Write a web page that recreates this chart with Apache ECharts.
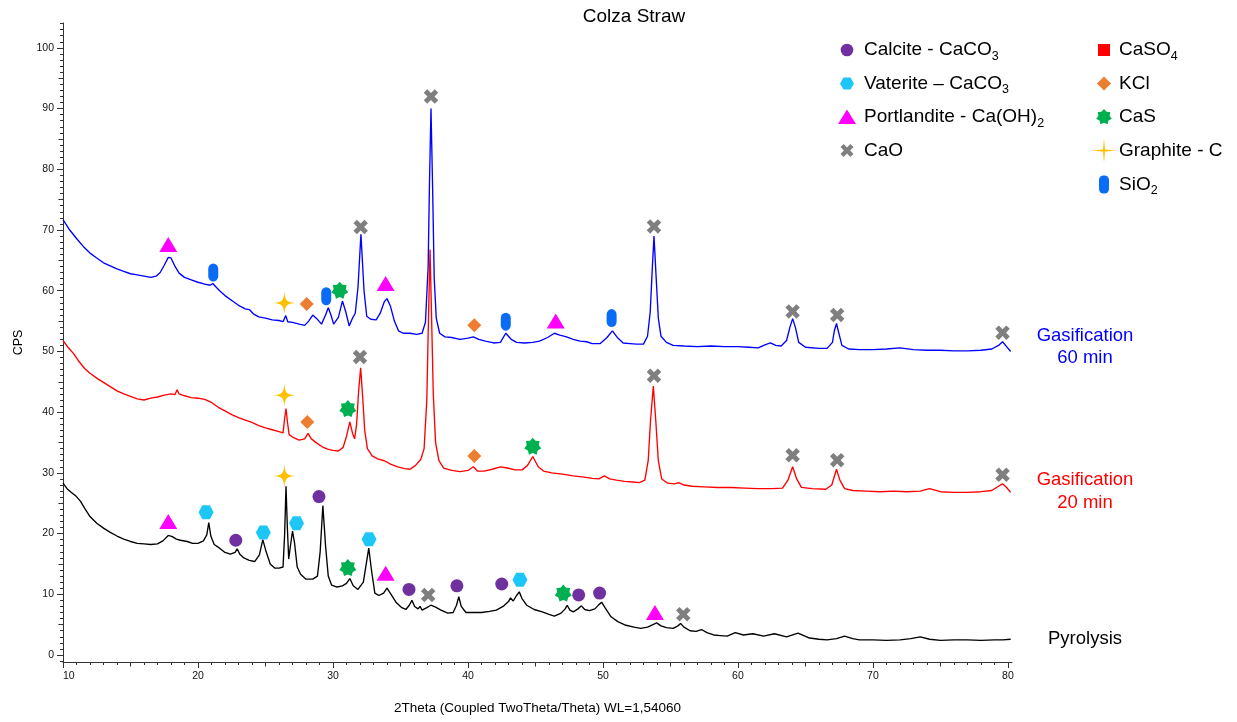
<!DOCTYPE html>
<html>
<head>
<meta charset="utf-8">
<script src="https://cdn.jsdelivr.net/npm/echarts@6/dist/echarts.min.js"></script>
<style>
html,body{margin:0;padding:0;background:#fff;}
#c{width:1237px;height:722px;}
</style>
</head>
<body>
<div id="c"></div>
<script>
// ---------------- DATA ----------------
const xMajor = [10, 20, 30, 40, 50, 60, 70, 80];
const yMajor = [0, 10, 20, 30, 40, 50, 60, 70, 80, 90, 100];

// Gasification 60 min (blue)
const gas60X = [10.0,10.5,11.0,11.5,12.0,12.5,13.0,13.5,14.0,14.5,15.0,15.5,16.0,16.5,16.9,17.2,17.5,17.8,18.0,18.3,18.6,19.0,19.5,20.0,20.5,20.9,21.1,21.3,21.6,22.0,22.5,23.0,23.5,23.8,24.1,24.5,25.0,25.5,26.0,26.3,26.5,26.65,27.0,27.5,27.9,28.2,28.5,28.8,29.15,29.45,29.65,29.85,30.05,30.4,30.7,30.95,31.2,31.45,31.65,31.85,32.07,32.3,32.5,32.8,33.2,33.5,33.8,34.0,34.25,34.55,34.85,35.2,35.7,36.2,36.6,36.85,37.05,37.15,37.26,37.38,37.5,37.65,37.9,38.3,38.8,39.4,40.0,40.4,40.8,41.3,41.9,42.4,42.8,43.2,43.6,44.2,44.8,45.3,45.9,46.4,46.8,47.3,47.8,48.3,48.8,49.2,49.8,50.3,50.7,51.1,51.5,52.0,52.5,53.0,53.3,53.5,53.65,53.78,53.92,54.1,54.3,54.7,55.2,56.0,57.0,58.0,59.0,60.0,60.8,61.5,62.0,62.4,62.8,63.2,63.6,63.85,64.05,64.25,64.5,65.0,66.0,66.6,67.0,67.15,67.3,67.45,67.7,68.2,69.0,70.0,71.0,72.0,73.0,74.0,75.0,76.0,77.0,78.0,78.8,79.3,79.6,79.9,80.2];
const gas60Y = [71.7,70.0,68.6,67.3,66.2,65.4,64.6,64.1,63.6,63.2,62.8,62.6,62.4,62.2,62.4,63.0,64.2,65.5,65.4,64.0,62.9,62.2,61.8,61.4,61.1,60.9,61.2,60.7,60.0,59.2,58.4,57.6,57.0,56.9,56.2,55.7,55.5,55.2,55.1,54.9,55.9,54.9,54.8,54.5,54.3,55.0,56.0,55.4,54.5,56.0,57.2,56.0,54.5,55.6,58.3,56.5,54.2,55.5,56.3,60.5,69.3,60.0,55.8,55.3,55.2,56.3,58.2,58.7,57.5,55.0,53.4,53.0,53.0,52.8,53.0,54.8,64.0,78.0,90.0,77.0,62.0,55.5,53.0,52.4,52.3,52.0,52.2,52.4,52.0,51.7,51.4,51.5,53.0,52.0,51.5,51.4,51.5,51.7,52.3,53.0,52.7,52.4,52.0,51.7,51.6,51.3,51.3,52.3,53.4,52.2,51.4,51.3,51.2,51.2,52.5,56.5,63.5,69.0,63.0,55.5,52.5,51.5,51.0,50.9,50.8,50.9,50.8,50.8,50.7,50.6,51.1,51.4,51.0,50.9,51.8,54.0,55.4,54.0,51.5,50.7,50.5,50.5,51.5,53.5,54.6,53.2,51.0,50.4,50.3,50.3,50.4,50.6,50.3,50.2,50.2,50.1,50.1,50.2,50.4,51.0,51.6,50.8,50.0];

// Gasification 20 min (red)
const gas20X = [10.0,10.4,10.8,11.2,11.6,12.0,12.5,13.0,13.5,14.0,14.5,15.0,15.5,16.0,16.5,17.0,17.5,18.0,18.3,18.45,18.6,19.0,19.5,20.0,20.5,21.0,21.5,22.0,22.5,23.0,23.5,24.0,24.5,25.0,25.5,26.0,26.3,26.42,26.52,26.62,26.75,27.0,27.5,27.9,28.15,28.4,28.8,29.2,29.6,30.0,30.4,30.75,31.0,31.25,31.45,31.6,31.75,31.9,32.05,32.2,32.35,32.55,32.9,33.3,33.8,34.3,34.8,35.3,35.7,36.1,36.5,36.75,36.95,37.07,37.19,37.3,37.43,37.6,37.85,38.2,38.8,39.4,40.0,40.4,40.7,41.2,41.8,42.4,42.9,43.5,44.0,44.4,44.8,45.2,45.6,46.2,47.0,47.8,48.6,49.2,49.7,50.1,50.5,51.0,51.6,52.2,52.7,53.1,53.35,53.52,53.73,53.9,54.1,54.35,54.8,55.3,55.6,56.0,56.6,57.5,58.5,59.5,60.5,61.5,62.5,63.3,63.7,64.05,64.35,64.7,65.5,66.5,66.95,67.3,67.55,67.9,68.5,69.5,70.5,71.5,72.5,73.5,74.2,75.0,76.0,77.0,78.0,78.8,79.3,79.6,79.9,80.2];
const gas20Y = [51.8,50.6,49.6,48.3,47.2,46.4,45.6,44.9,44.2,43.5,43.0,42.6,42.2,42.0,42.3,42.5,42.8,43.0,42.9,43.7,43.0,42.7,42.4,42.3,42.1,41.6,40.8,40.2,39.6,39.1,38.7,38.3,37.8,37.4,37.1,36.8,36.6,39.0,40.6,38.5,36.3,35.9,35.4,35.6,36.5,35.6,34.9,34.3,33.9,33.7,33.6,34.2,36.0,38.4,36.5,35.6,38.0,43.5,47.3,42.5,37.0,34.0,32.8,32.3,32.0,31.4,31.0,30.7,30.6,31.2,32.2,34.0,42.0,55.0,66.8,56.0,43.0,35.0,32.0,30.8,30.4,30.2,30.4,31.0,30.3,30.3,30.6,31.0,30.8,30.5,30.5,31.2,32.7,31.0,30.3,30.0,29.8,29.5,29.3,29.1,29.0,29.5,29.0,28.8,28.6,28.5,28.4,28.8,32.0,38.5,44.3,39.0,32.0,29.0,28.3,28.2,28.4,28.0,27.8,27.7,27.6,27.6,27.5,27.4,27.4,27.5,28.8,31.0,29.0,27.6,27.4,27.3,28.0,30.6,28.8,27.4,27.1,27.0,26.9,27.0,26.9,27.0,27.4,26.9,26.8,26.8,26.9,27.1,27.8,28.2,27.6,26.8];

// Pyrolysis (black)
const pyroX = [10.0,10.3,10.6,11.0,11.3,11.6,12.0,12.5,13.0,13.5,14.0,14.5,15.0,15.5,16.0,16.5,17.0,17.4,17.8,18.1,18.4,18.7,19.2,19.6,20.0,20.4,20.65,20.8,20.95,21.2,21.6,22.0,22.4,22.75,22.9,23.1,23.4,23.8,24.2,24.55,24.8,25.05,25.35,25.7,26.0,26.3,26.42,26.52,26.62,26.72,26.85,27.0,27.15,27.35,27.6,28.0,28.5,28.85,29.05,29.25,29.45,29.65,29.9,30.3,30.7,31.0,31.25,31.5,31.85,32.25,32.5,32.65,32.85,33.1,33.4,33.75,34.0,34.3,34.7,35.1,35.4,35.65,35.85,36.05,36.3,36.45,36.6,36.95,37.25,37.6,38.0,38.5,38.9,39.15,39.32,39.5,39.85,40.4,41.0,41.6,42.1,42.6,43.0,43.15,43.35,43.6,43.8,44.0,44.35,44.9,45.5,46.0,46.4,46.9,47.2,47.35,47.55,47.8,48.15,48.4,48.65,49.0,49.4,49.7,49.9,50.15,50.6,51.1,51.7,52.3,52.8,53.3,53.7,53.98,54.3,54.7,55.2,55.55,55.75,56.0,56.45,56.9,57.3,57.7,58.2,58.7,59.2,59.8,60.4,61.1,61.9,62.7,63.6,64.45,65.3,66.0,66.6,67.3,67.9,68.5,69.0,70.0,71.0,72.0,72.8,73.5,74.2,75.0,76.0,77.0,78.0,79.0,79.6,80.2];
const pyroY = [28.3,27.4,26.8,26.1,25.3,24.2,22.8,21.7,20.9,20.2,19.6,19.1,18.7,18.4,18.3,18.2,18.3,18.8,19.7,19.5,19.1,18.9,18.7,18.4,18.4,18.8,19.8,21.8,19.6,18.2,17.6,16.9,16.6,16.9,17.5,16.6,16.0,15.6,15.4,16.5,19.0,17.0,15.0,14.3,14.3,14.5,20.0,27.8,21.0,15.8,18.0,20.4,18.5,14.5,13.3,12.5,12.5,13.0,17.0,24.6,18.0,13.0,11.5,11.2,11.4,11.8,12.6,11.4,10.8,12.0,15.5,17.6,14.0,10.2,9.8,10.2,11.0,10.0,8.6,7.8,7.5,8.2,9.0,8.0,7.6,8.0,7.4,7.8,8.2,7.9,7.4,6.9,7.0,8.2,9.6,8.0,7.0,7.0,7.0,7.2,7.4,8.0,8.8,9.4,8.9,9.8,10.4,9.3,8.2,7.5,7.1,6.7,6.4,6.9,7.6,8.2,7.4,7.1,7.6,8.1,7.5,7.3,7.6,8.3,8.7,7.8,6.3,5.5,4.9,4.6,4.4,4.6,5.0,5.3,4.8,4.5,4.4,4.8,5.2,4.6,4.0,3.9,4.2,3.7,3.3,3.2,3.1,3.7,3.3,3.5,3.1,3.5,3.0,3.6,2.8,2.6,2.5,2.7,3.1,2.7,2.5,2.5,2.4,2.5,2.7,3.0,2.6,2.4,2.5,2.5,2.4,2.5,2.5,2.6];

// Phase markers (2theta, CPS)
const calciteX = [22.8, 28.96, 35.63, 39.18, 42.5, 48.2, 49.75];
const calciteY = [18.9, 26.1, 10.8, 11.4, 11.7, 9.9, 10.2];
const vateriteX = [20.6, 24.84, 27.3, 32.67, 43.85];
const vateriteY = [23.5, 20.2, 21.7, 19.05, 12.4];
const portlX = [17.8, 33.9, 46.5, 17.8, 33.9, 53.85];
const portlY = [67.6, 61.2, 55.0, 22.0, 13.45, 7.0];
const caoX = [32.05, 37.26, 53.78, 64.05, 67.35, 79.6, 32.0, 53.78, 64.05, 67.35, 79.6, 37.05, 55.95];
const caoY = [70.5, 92.0, 70.6, 56.6, 56.0, 53.1, 49.1, 46.0, 32.9, 32.1, 29.7, 9.9, 6.7];
const kclX = [28.05, 40.47, 28.1, 40.47];
const kclY = [57.8, 54.3, 38.4, 32.8];
const casX = [30.5, 31.1, 44.8, 31.1, 47.06];
const casY = [60.1, 40.6, 34.4, 14.4, 10.2];
const graphiteX = [26.4, 26.4, 26.4];
const graphiteY = [58.0, 42.8, 29.5];
const sio2X = [21.13, 29.5, 42.8, 50.64];
const sio2Y = [63.0, 59.1, 54.9, 55.5];

const legendCol1 = ['Calcite - CaCO{s|3}', 'Vaterite \u2013 CaCO{s|3}', 'Portlandite - Ca(OH){s|2}', 'CaO'];
const legendCol2 = ['CaSO{s|4}', 'KCl', 'CaS', 'Graphite - C', 'SiO{s|2}'];
const curveLabels = ['Gasification\n60 min', 'Gasification\n20 min', 'Pyrolysis'];

// ---------------- STYLE / SHAPES ----------------
const FONT = '"Liberation Sans", Arial, sans-serif';
const C = {
  calcite: '#7030A0', vaterite: '#1CC6F6', portl: '#FF00FF', cao: '#7F7F7F',
  caso4: '#FF0000', kcl: '#ED7D31', cas: '#00B050', graphite: '#FFC000', sio2: '#0A6CF5'
};
// unit shapes as point lists in a 100x100 box
const hexPts = [[0,50],[25,5],[75,5],[100,50],[75,95],[25,95]];
const xPts = [[24,0],[50,26],[76,0],[100,24],[74,50],[100,76],[76,100],[50,74],[24,100],[0,76],[26,50],[0,24]];
function starPts(n, rin) {
  const p = [];
  for (let i = 0; i < 2 * n; i++) {
    const r = (i % 2 === 0) ? 50 : 50 * rin;
    const a = -Math.PI / 2 + i * Math.PI / n;
    p.push([50 + r * Math.cos(a), 50 + r * Math.sin(a)]);
  }
  return p;
}
const star7Pts = starPts(7, 0.72);
const star4D = 'M50,0 C53,40 60,47 100,50 C60,53 53,60 50,100 C47,60 40,53 0,50 C40,47 47,40 50,0 Z';
const capD = 'M0,30 A50,30 0 0 1 100,30 L100,70 A50,30 0 0 1 0,70 Z';
function toPath(pts) { return pts.map((p, i) => (i ? 'L' : 'M') + p[0].toFixed(2) + ',' + p[1].toFixed(2)).join(' ') + ' Z'; }
function fitPts(pts, w, h) { return pts.map(p => [(p[0] - 50) / 100 * w, (p[1] - 50) / 100 * h]); }
function star4Pts(R) {
  const p = [];
  for (let i = 0; i < 16; i++) {
    const a = -Math.PI / 2 + i * Math.PI / 8;
    const k = i % 4;
    const r = k === 0 ? R : (k === 2 ? R * 0.12 : R * 0.2);
    p.push([r * Math.cos(a), r * Math.sin(a)]);
  }
  return p;
}

function pairs(xs, ys) { return xs.map((x, i) => [x, ys[i]]); }
function range(a, b, keep) { const r = []; for (let v = a; v <= b; v++) if (keep(v)) r.push(v); return r; }
const xMid = range(10, 80, v => v % 5 === 0 && v % 10 !== 0);
const xMinor = range(10, 80, v => v % 5 !== 0);
const yMid = range(0, 104, v => v % 5 === 0 && v % 10 !== 0);
const yMinor = range(-1, 104, v => v % 5 !== 0);

const XMIN = 10, XMAX = 80.3, YMIN = -1.15, YMAX = 104.1;
const axisColor = '#333';

function xAx(ticks, len, main) {
  return {
    type: 'value', min: XMIN, max: XMAX, position: 'bottom',
    axisLine: { show: main, onZero: false, lineStyle: { color: axisColor, width: 1 } },
    axisTick: { show: true, customValues: ticks, length: len, lineStyle: { color: axisColor, width: 1 } },
    axisLabel: main ? { show: true, customValues: xMajor, fontSize: 10.5, color: '#111', margin: 9, fontFamily: FONT, alignMinLabel: 'left' } : { show: false },
    splitLine: { show: false },
    name: main ? '2Theta (Coupled TwoTheta/Theta) WL=1,54060' : '',
    nameLocation: 'middle', nameGap: 39,
    nameTextStyle: { fontSize: 13.5, color: '#000', fontFamily: FONT }
  };
}
function yAx(ticks, len, main) {
  return {
    type: 'value', min: YMIN, max: YMAX, position: 'left',
    axisLine: { show: main, onZero: false, lineStyle: { color: axisColor, width: 1 } },
    axisTick: { show: true, customValues: ticks, length: len, lineStyle: { color: axisColor, width: 1 } },
    axisLabel: main ? { show: true, customValues: yMajor, fontSize: 10.5, color: '#111', margin: 9, fontFamily: FONT } : { show: false },
    splitLine: { show: false },
    name: main ? 'CPS' : '',
    nameLocation: 'middle', nameGap: 38,
    nameTextStyle: { fontSize: 12.5, color: '#000', fontFamily: FONT }
  };
}

function lineSeries(name, xs, ys, color) {
  return {
    name, type: 'line', data: pairs(xs, ys), showSymbol: false, symbol: 'none',
    lineStyle: { color, width: 1.35 }, itemStyle: { color }, z: 3, silent: true, animation: false
  };
}
function markerSeries(name, xs, ys, symbol, size, color) {
  return {
    name, type: 'scatter', data: pairs(xs, ys), symbol, symbolSize: size,
    itemStyle: { color, opacity: 1 }, z: 10, silent: true, animation: false
  };
}

// legend graphics
function legendSymbol(kind) {
  switch (kind) {
    case 'circle': return { type: 'circle', shape: { cx: 0, cy: 0, r: 6.3 }, style: { fill: C.calcite } };
    case 'hex': return { type: 'polygon', shape: { points: fitPts(hexPts, 14, 13.5) }, style: { fill: C.vaterite } };
    case 'tri': return { type: 'polygon', shape: { points: [[0, -7.5], [9, 7], [-9, 7]] }, style: { fill: C.portl } };
    case 'x': return { type: 'polygon', shape: { points: fitPts(xPts, 13, 13) }, style: { fill: C.cao } };
    case 'sq': return { type: 'rect', shape: { x: -6, y: -6, width: 12, height: 12 }, style: { fill: C.caso4 } };
    case 'dia': return { type: 'polygon', shape: { points: [[0, -7], [7, 0], [0, 7], [-7, 0]] }, style: { fill: C.kcl } };
    case 'star7': return { type: 'polygon', shape: { points: fitPts(star7Pts, 16, 16) }, style: { fill: C.cas } };
    case 'star4': return { type: 'polygon', shape: { points: star4Pts(12) }, style: { fill: C.graphite } };
    case 'cap': return { type: 'rect', shape: { x: -5, y: -9, width: 10, height: 18, r: 4.5 }, style: { fill: C.sio2 } };
  }
}
const richSub = { s: { fontSize: 12.5, fontFamily: FONT, fill: '#000', verticalAlign: 'bottom', lineHeight: 12 } };
function legendItem(kind, label, sx, tx, y) {
  return {
    type: 'group', x: sx, y: y, silent: true,
    children: [
      legendSymbol(kind),
      { type: 'text', x: tx - sx, y: 0, style: { text: label, fontSize: 19, fontFamily: FONT, fill: '#000', verticalAlign: 'middle', align: 'left', lineHeight: 26, rich: richSub } }
    ]
  };
}
const col1Kinds = ['circle', 'hex', 'tri', 'x'];
const col2Kinds = ['sq', 'dia', 'star7', 'star4', 'cap'];
const rowY = [50, 83.5, 117, 150.5, 184.5];
const graphics = [];
legendCol1.forEach((t, i) => graphics.push(legendItem(col1Kinds[i], t, 847, 864, rowY[i])));
legendCol2.forEach((t, i) => graphics.push(legendItem(col2Kinds[i], t, 1104, 1119, rowY[i])));

graphics.push({ type: 'text', x: 634, y: 17, silent: true, style: { text: 'Colza Straw', fontSize: 19, fontFamily: FONT, fill: '#000', align: 'center', verticalAlign: 'middle' } });
const labelPos = [[1085, 347, '#0000FF'], [1085, 491.5, '#FF0000'], [1085, 638.5, '#000000']];
curveLabels.forEach((t, i) => graphics.push({
  type: 'text', x: labelPos[i][0], y: labelPos[i][1], silent: true,
  style: { text: t, fontSize: 18.5, lineHeight: 22.5, fontFamily: FONT, fill: labelPos[i][2], align: 'center', verticalAlign: 'middle' }
}));

const option = {
  backgroundColor: '#fff',
  animation: false,
  grid: { left: 63, right: 225, top: 23, bottom: 60, containLabel: false },
  xAxis: [xAx(xMajor, 6, true), xAx(xMid, 4.5, false), xAx(xMinor, 3, false)],
  yAxis: [yAx(yMajor, 6, true), yAx(yMid, 4.5, false), yAx(yMinor, 3, false)],
  series: [
    lineSeries('Gasification 60 min', gas60X, gas60Y, '#0000FF'),
    lineSeries('Gasification 20 min', gas20X, gas20Y, '#FF0000'),
    lineSeries('Pyrolysis', pyroX, pyroY, '#000000'),
    markerSeries('Calcite', calciteX, calciteY, 'circle', 13, C.calcite),
    markerSeries('Vaterite', vateriteX, vateriteY, 'path://' + toPath(hexPts), [15, 14], C.vaterite),
    markerSeries('Portlandite', portlX, portlY, 'triangle', [18, 15], C.portl),
    markerSeries('CaO', caoX, caoY, 'path://' + toPath(xPts), [14.5, 14.5], C.cao),
    markerSeries('KCl', kclX, kclY, 'diamond', [14, 14], C.kcl),
    markerSeries('CaS', casX, casY, 'path://' + toPath(star7Pts), [17, 17], C.cas),
    markerSeries('Graphite', graphiteX, graphiteY, 'path://' + star4D, [23, 23], C.graphite),
    markerSeries('SiO2', sio2X, sio2Y, 'path://' + capD, [10, 18], C.sio2)
  ],
  graphic: graphics
};
const chart = echarts.init(document.getElementById('c'), null, { renderer: 'canvas' });
chart.setOption(option);
</script>
</body>
</html>
